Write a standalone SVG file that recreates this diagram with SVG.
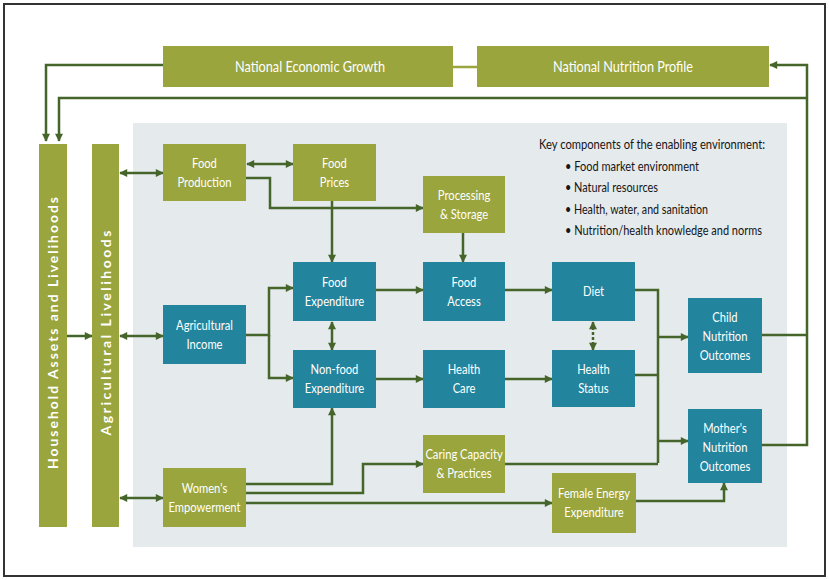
<svg xmlns="http://www.w3.org/2000/svg" width="829" height="580" viewBox="0 0 829 580">
  <defs>
    <marker id="arrow" viewBox="0 0 10 10" refX="9" refY="5" markerWidth="9" markerHeight="8" markerUnits="userSpaceOnUse" orient="auto-start-reverse">
      <path d="M0,0 L10,5 L0,10 z" fill="#46652a"/>
    </marker>
    <style>
      .olive { fill: #9aa53d; }
      .teal { fill: #23849e; }
      .lbl { font-family: Lato, "Open Sans", "Liberation Sans", sans-serif; font-size: 14px; fill: #ffffff; text-anchor: middle; }
      .box { transform-box: fill-box; transform-origin: center; transform: scaleX(0.8); }
      .big { font-size: 15px; }
      .bar { font-size: 14px; font-weight: bold; }
      .key { font-family: Lato, "Open Sans", "Liberation Sans", sans-serif; font-size: 13.5px; fill: #151515; }
      .con { fill: none; stroke: #46652a; stroke-width: 2.5; }
      .one { marker-end: url(#arrow); }
      .two { marker-start: url(#arrow); marker-end: url(#arrow); }
    </style>
  </defs>

  <!-- frame and enabling-environment panel -->
  <rect x="0" y="0" width="829" height="580" fill="#ffffff"/>
  <rect x="4" y="4" width="821" height="572" fill="#ffffff" stroke="#333333" stroke-width="2"/>
  <rect x="133" y="123" width="654" height="424" fill="#e5eaed"/>

  <!-- connectors -->
  <g id="connectors">
    <path class="con" d="M453,67 H477" style="stroke:#9aa53d"/>
    <path class="con one" d="M163,65 H46 V141"/>
    <path class="con one" d="M807,98 H59 V141"/>
    <path class="con" d="M762,335 H807"/>
    <path class="con one" d="M762,445 H807 V65 H770"/>
    <path class="con one" d="M67,336 H92"/>
    <path class="con two" d="M120,173 H163"/>
    <path class="con two" d="M120,336 H163"/>
    <path class="con two" d="M120,498 H163"/>
    <path class="con two" d="M247,164 H293"/>
    <path class="con one" d="M246,178 H270 V208 H423"/>
    <path class="con one" d="M332,201 V262"/>
    <path class="con one" d="M463,233 V262"/>
    <path class="con one" d="M246,335 H269 V288 H293"/>
    <path class="con one" d="M269,335 V378 H293"/>
    <path class="con one" d="M376,290 H423"/>
    <path class="con one" d="M505,290 H552"/>
    <path class="con two" d="M332,322 V350"/>
    <path class="con one" d="M376,379 H423"/>
    <path class="con one" d="M505,379 H552"/>
    <path class="con two" d="M593,322 V350" stroke-dasharray="3 2"/>
    <path class="con" d="M635,290 H658 V463"/>
    <path class="con" d="M635,375 H658"/>
    <path class="con" d="M505,464 H658"/>
    <path class="con one" d="M658,337 H688"/>
    <path class="con one" d="M658,441 H688"/>
    <path class="con one" d="M246,484 H332 V408"/>
    <path class="con one" d="M246,493 H363 V464 H423"/>
    <path class="con one" d="M246,503 H552"/>
    <path class="con one" d="M636,501 H724 V483"/>
  </g>

  <!-- national level -->
  <g id="national-economic-growth">
    <rect class="olive" x="163" y="46" width="290" height="41"/>
    <text class="lbl big" x="310" y="71.5" textLength="150" lengthAdjust="spacingAndGlyphs">National Economic Growth</text>
  </g>
  <g id="national-nutrition-profile">
    <rect class="olive" x="477" y="46" width="292" height="41"/>
    <text class="lbl big" x="623" y="71.5" textLength="140" lengthAdjust="spacingAndGlyphs">National Nutrition Profile</text>
  </g>

  <!-- vertical bars -->
  <g id="household-assets">
    <rect class="olive" x="39" y="144" width="28" height="383"/>
    <text class="lbl bar" transform="translate(58,333) rotate(-90)" textLength="272" lengthAdjust="spacing">Household Assets and Livelihoods</text>
  </g>
  <g id="agricultural-livelihoods">
    <rect class="olive" x="92" y="144" width="27" height="383"/>
    <text class="lbl bar" transform="translate(110.5,333) rotate(-90)" textLength="205" lengthAdjust="spacing">Agricultural Livelihoods</text>
  </g>

  <!-- olive nodes -->
  <g id="food-production">
    <rect class="olive" x="163" y="144" width="83" height="57"/>
    <text class="lbl box" x="204.5" y="168">Food</text>
    <text class="lbl box" x="204.5" y="187">Production</text>
  </g>
  <g id="food-prices">
    <rect class="olive" x="293" y="144" width="83" height="57"/>
    <text class="lbl box" x="334.5" y="168">Food</text>
    <text class="lbl box" x="334.5" y="187">Prices</text>
  </g>
  <g id="processing-storage">
    <rect class="olive" x="423" y="176" width="82" height="57"/>
    <text class="lbl box" x="464" y="200">Processing</text>
    <text class="lbl box" x="464" y="219">&amp; Storage</text>
  </g>
  <g id="womens-empowerment">
    <rect class="olive" x="163" y="468" width="83" height="59"/>
    <text class="lbl box" x="204.5" y="493">Women's</text>
    <text class="lbl box" x="204.5" y="512">Empowerment</text>
  </g>
  <g id="caring-capacity">
    <rect class="olive" x="423" y="435" width="82" height="58"/>
    <text class="lbl box" x="464" y="459">Caring Capacity</text>
    <text class="lbl box" x="464" y="478">&amp; Practices</text>
  </g>
  <g id="female-energy">
    <rect class="olive" x="552" y="473" width="84" height="60"/>
    <text class="lbl box" x="594" y="498">Female Energy</text>
    <text class="lbl box" x="594" y="517">Expenditure</text>
  </g>

  <!-- teal nodes -->
  <g id="agricultural-income">
    <rect class="teal" x="163" y="305" width="83" height="59"/>
    <text class="lbl box" x="204.5" y="330">Agricultural</text>
    <text class="lbl box" x="204.5" y="349">Income</text>
  </g>
  <g id="food-expenditure">
    <rect class="teal" x="293" y="262" width="83" height="59"/>
    <text class="lbl box" x="334.5" y="287">Food</text>
    <text class="lbl box" x="334.5" y="306">Expenditure</text>
  </g>
  <g id="food-access">
    <rect class="teal" x="423" y="262" width="82" height="59"/>
    <text class="lbl box" x="464" y="287">Food</text>
    <text class="lbl box" x="464" y="306">Access</text>
  </g>
  <g id="diet">
    <rect class="teal" x="552" y="262" width="83" height="59"/>
    <text class="lbl box" x="593.5" y="296">Diet</text>
  </g>
  <g id="non-food-expenditure">
    <rect class="teal" x="293" y="350" width="83" height="58"/>
    <text class="lbl box" x="334.5" y="374">Non-food</text>
    <text class="lbl box" x="334.5" y="393">Expenditure</text>
  </g>
  <g id="health-care">
    <rect class="teal" x="423" y="350" width="82" height="58"/>
    <text class="lbl box" x="464" y="374">Health</text>
    <text class="lbl box" x="464" y="393">Care</text>
  </g>
  <g id="health-status">
    <rect class="teal" x="552" y="350" width="83" height="57"/>
    <text class="lbl box" x="593.5" y="374">Health</text>
    <text class="lbl box" x="593.5" y="393">Status</text>
  </g>
  <g id="child-outcomes">
    <rect class="teal" x="688" y="298" width="74" height="75"/>
    <text class="lbl box" x="725" y="322">Child</text>
    <text class="lbl box" x="725" y="341">Nutrition</text>
    <text class="lbl box" x="725" y="360">Outcomes</text>
  </g>
  <g id="mother-outcomes">
    <rect class="teal" x="688" y="409" width="74" height="74"/>
    <text class="lbl box" x="725" y="433">Mother's</text>
    <text class="lbl box" x="725" y="452">Nutrition</text>
    <text class="lbl box" x="725" y="471">Outcomes</text>
  </g>

  <!-- enabling environment list -->
  <g id="key-components">
    <text class="key" x="539" y="149" textLength="226" lengthAdjust="spacingAndGlyphs">Key components of the enabling environment:</text>
    <text class="key" x="565" y="171" textLength="134" lengthAdjust="spacingAndGlyphs">• Food market environment</text>
    <text class="key" x="565" y="192" textLength="93" lengthAdjust="spacingAndGlyphs">• Natural resources</text>
    <text class="key" x="565" y="214" textLength="143" lengthAdjust="spacingAndGlyphs">• Health, water, and sanitation</text>
    <text class="key" x="565" y="235" textLength="197" lengthAdjust="spacingAndGlyphs">• Nutrition/health knowledge and norms</text>
  </g>
</svg>
